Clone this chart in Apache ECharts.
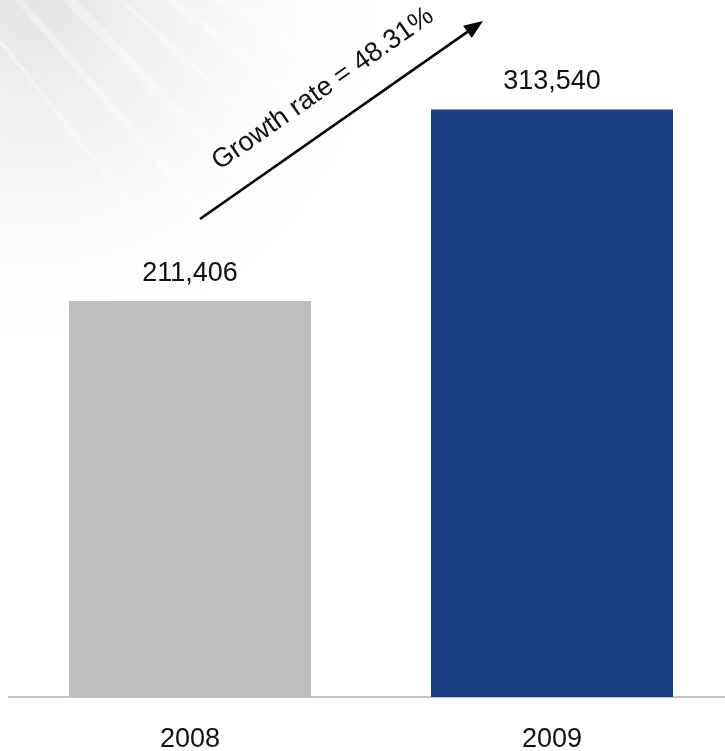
<!DOCTYPE html>
<html>
<head>
<meta charset="utf-8">
<style>
  html, body { margin: 0; padding: 0; background: #ffffff; }
  #chart { width: 725px; height: 751px; }
</style>
<script src="https://cdn.jsdelivr.net/npm/echarts@6/dist/echarts.min.js"></script>
</head>
<body>
<div id="chart"></div>
<script>
// Yearly totals
const years = ['2008', '2009'];
const totals = [211406, 313540];
const barColors = ['#bebebe', '#1b3d82'];
const growthText = 'Growth rate = 48.31%';

const chart = echarts.init(document.getElementById('chart'));
const FONT = '"Liberation Sans", Arial, sans-serif';

// Arrow annotation geometry (screen space)
const arrowStart = [200, 219];
const arrowTip = [483, 21];
const dx = arrowTip[0] - arrowStart[0], dy = arrowTip[1] - arrowStart[1];
const len = Math.sqrt(dx * dx + dy * dy);
const ux = dx / len, uy = dy / len;
const headLen = 19, headHalf = 7.5;
const base = [arrowTip[0] - ux * headLen, arrowTip[1] - uy * headLen];
const headPts = [
  arrowTip,
  [base[0] - uy * headHalf, base[1] + ux * headHalf],
  [base[0] + uy * headHalf, base[1] - ux * headHalf]
];
const angle = Math.atan2(-dy, dx);

// Soft grey haze with faint light streaks in the upper-left corner
const hazeStreaks = [];
for (let i = 0; i < 6; i++) {
  const off = 30 + i * 50;
  hazeStreaks.push({
    type: 'line',
    silent: true,
    z: -9,
    shape: { x1: off - 70, y1: -10, x2: off + 120, y2: 230 - i * 22 },
    style: { stroke: 'rgba(255,255,255,0.35)', lineWidth: 4 + (i % 3) * 3 }
  });
}

chart.setOption({
  backgroundColor: '#ffffff',
  animation: false,
  grid: {
    left: 9, top: 0, bottom: 54, width: 724,
    containLabel: false, outerBoundsMode: 'none'
  },
  xAxis: {
    type: 'category',
    data: years,
    axisLine: { show: true, lineStyle: { color: '#c2c2c2', width: 2 } },
    axisTick: { show: false },
    axisLabel: { fontFamily: FONT, fontSize: 27, color: '#111111', margin: 29 }
  },
  yAxis: {
    type: 'value',
    min: 0,
    max: 372000,
    show: false,
    splitLine: { show: false }
  },
  series: [{
    type: 'bar',
    barWidth: 242,
    data: totals.map((v, i) => ({ value: v, itemStyle: { color: barColors[i] } })),
    label: {
      show: true,
      position: 'top',
      distance: 14,
      fontFamily: FONT,
      fontSize: 27,
      color: '#111111',
      formatter: p => p.value.toLocaleString('en-US')
    }
  }],
  graphic: [
    {
      type: 'rect',
      silent: true,
      z: -10,
      shape: { x: 0, y: 0, width: 725, height: 751 },
      style: {
        fill: {
          type: 'radial', x: 0.05, y: 0.0, r: 0.5,
          colorStops: [
            { offset: 0, color: 'rgba(222,222,222,0.85)' },
            { offset: 0.45, color: 'rgba(236,236,236,0.5)' },
            { offset: 1, color: 'rgba(255,255,255,0)' }
          ]
        }
      }
    }
  ].concat(hazeStreaks, [
    {
      type: 'line',
      silent: true,
      z: 10,
      shape: { x1: arrowStart[0], y1: arrowStart[1], x2: base[0], y2: base[1] },
      style: { stroke: '#000000', lineWidth: 2.6 }
    },
    {
      type: 'polygon',
      silent: true,
      z: 10,
      shape: { points: headPts },
      style: { fill: '#000000' }
    },
    {
      type: 'text',
      silent: true,
      z: 10,
      x: 323,
      y: 89,
      rotation: angle,
      style: {
        text: growthText,
        fontFamily: FONT,
        fontSize: 27,
        fill: '#111111',
        align: 'center',
        verticalAlign: 'middle'
      }
    }
  ])
});
</script>
</body>
</html>
